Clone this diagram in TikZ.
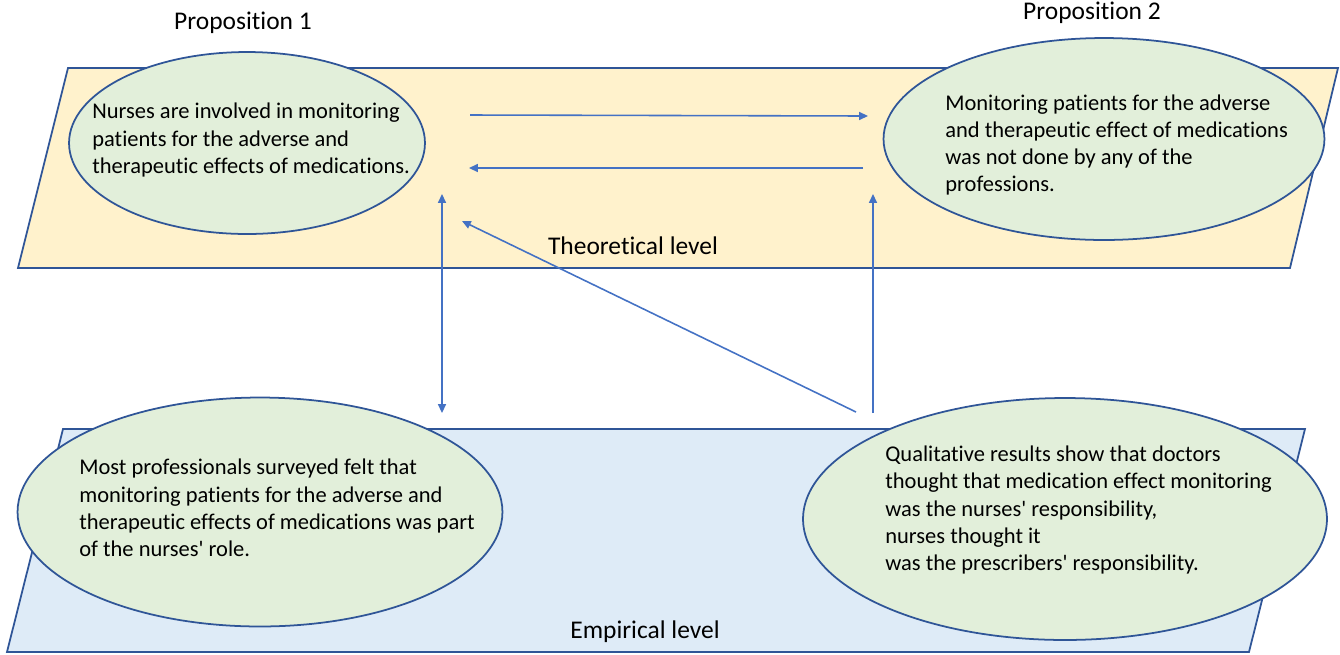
\documentclass[tikz,border=0pt]{standalone}
\usepackage{fontspec}
\setmainfont{Carlito}[Ligatures={TeXOff,CommonOff,ContextualOff}]
\usetikzlibrary{shapes.geometric,arrows.meta}

\definecolor{theoryfill}{HTML}{FFF2CC}
\definecolor{empiricfill}{HTML}{DEEBF7}
\definecolor{bubblefill}{HTML}{E2EFDA}
\definecolor{rim}{HTML}{2F5597}
\definecolor{linkblue}{HTML}{4472C4}

\def\tip{Triangle[length=5pt,width=4.5pt]}

\tikzset{
  plane/.style={draw=rim, line width=1pt},
  bubble/.style={ellipse, draw=rim, fill=bubblefill, line width=1pt, inner sep=0pt},
  bubbletext/.style={anchor=west, align=left, inner sep=0pt, font=\fontsize{12.8}{15.5}\selectfont},
  title/.style={inner sep=0pt, font=\fontsize{14.5}{17}\selectfont},
  link/.style={draw=linkblue, line width=0.9pt, -{\tip}},
  twoway/.style={draw=linkblue, line width=0.9pt, {\tip}-{\tip}},
}

\begin{document}
\begin{tikzpicture}[x=0.02cm,y=-0.02cm]
    \useasboundingbox (0,0) rectangle (1340,654);

    \filldraw[plane, fill=theoryfill] (68,68) -- (1338,68) -- (1290,268) -- (18,268) -- cycle;
    \filldraw[plane, fill=empiricfill] (63,429) -- (1305,429) -- (1249,652) -- (7,652) -- cycle;

    \node[title] (theory) at (633,246) {Theoretical level};
    \node[title] (empiric) at (645,632) {Empirical level};
    \node[title] (prop1) at (243,23) {Proposition 1};
    \node[title] (prop2) at (1092,13) {Proposition 2};

    \node[bubble, minimum width=7.12cm, minimum height=3.64cm] (nurses) at (247,143) {};
    \node[bubbletext] (nursestext) at (92,140) {Nurses are involved in monitoring\\patients for the adverse and\\therapeutic effects of medications.};

    \node[bubble, minimum width=8.82cm, minimum height=4.04cm] (nobody) at (1104,139) {};
    \node[bubbletext] (nobodytext) at (945,145) {Monitoring patients for the adverse\\and therapeutic effect of medications\\was not done by any of the\\professions.};

    \node[bubble, minimum width=9.7cm, minimum height=4.58cm] (survey) at (260,512) {};
    \node[bubbletext] (surveytext) at (79,508) {Most professionals surveyed felt that\\monitoring patients for the adverse and\\therapeutic effects of medications was part\\of the nurses' role.};

    \node[bubble, minimum width=10.48cm, minimum height=4.84cm] (quali) at (1065,519) {};
    \node[bubbletext] (qualitext) at (885,510) {Qualitative results show that doctors\\thought that medication effect monitoring\\was the nurses' responsibility,\\nurses thought it\\was the prescribers' responsibility.};

    \coordinate (fwdstart) at (470,115);
    \coordinate (fwdend) at (868,116);
    \coordinate (backstart) at (863,168);
    \coordinate (backend) at (469,168);
    \coordinate (lefttop) at (442,194);
    \coordinate (leftbottom) at (442,413);
    \coordinate (diagstart) at (856,412);
    \coordinate (diagend) at (462,221);
    \coordinate (rightbottom) at (873,413);
    \coordinate (righttop) at (873,194);

    \draw[link] (fwdstart) -- (fwdend);
    \draw[link] (backstart) -- (backend);
    \draw[twoway] (lefttop) -- (leftbottom);
    \draw[link] (diagstart) -- (diagend);
    \draw[link] (rightbottom) -- (righttop);
\end{tikzpicture}
\end{document}
